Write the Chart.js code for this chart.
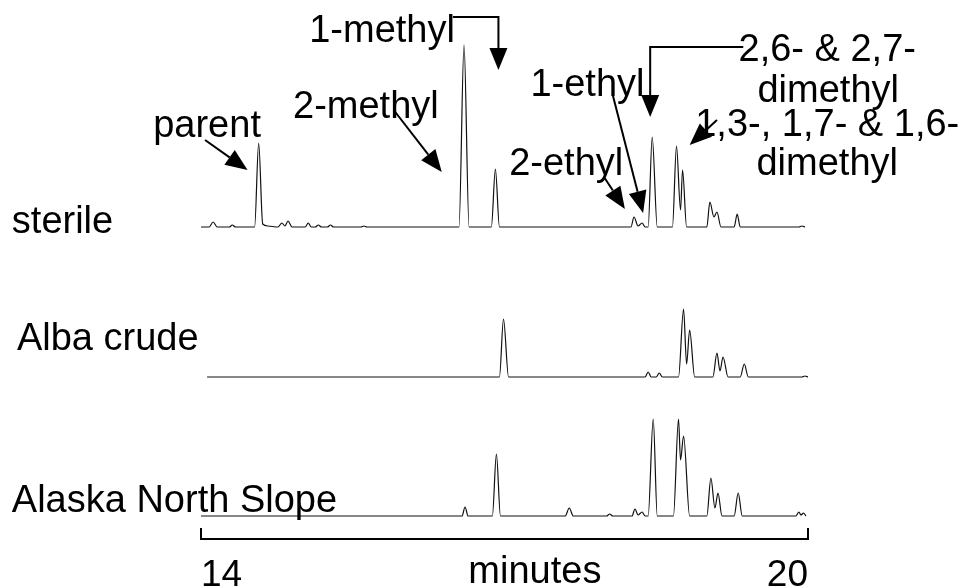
<!DOCTYPE html>
<html>
<head>
<meta charset="utf-8">
<script src="https://cdn.jsdelivr.net/npm/chart.js@4.4.0/dist/chart.umd.min.js"></script>
<style>
  body { margin: 0; background: #fff; }
</style>
</head>
<body>
<canvas id="chrom" width="963" height="586"></canvas>
<script>
// retention time axis (minutes)
const xTicks = [14, 20];

// signal, arbitrary units above its baseline
const sterileTime = [14.00, 14.08, 14.12, 14.16, 14.28, 14.31, 14.34, 14.53, 14.57, 14.61, 14.66,
    14.76, 14.80, 14.83, 14.86, 14.90, 15.03, 15.06, 15.09, 15.13, 15.16, 15.19, 15.25, 15.28, 15.31,
    15.58, 15.61, 15.64, 16.55, 16.60, 16.65, 16.87, 16.91, 16.95, 18.25, 18.28, 18.32, 18.36, 18.39,
    18.42, 18.46, 18.51, 18.66, 18.70, 18.74, 18.76, 18.80, 19.00, 19.03, 19.07, 19.10, 19.14,
    19.27, 19.30, 19.33, 19.91, 19.94, 19.97];
const sterileSignal = [0, 0, 5, 0, 0, 2, 0, 0, 84, 3, 1,
    0, 4, 1, 6, 0, 0, 4, 0, 0, 2, 0, 0, 2, 0,
    0, 1, 0, 0, 182, 0, 0, 58, 0, 0, 10, 1, 4, 0,
    0, 90, 0, 0, 81, 17, 57, 0, 0, 25, 10, 15, 0,
    0, 13, 0, 0, 1, 0];

const albaTime = [14.06, 16.95, 16.99, 17.04, 18.39, 18.42, 18.45, 18.50, 18.53, 18.56,
    18.72, 18.77, 18.80, 18.83, 18.88, 19.06, 19.10, 19.13, 19.16, 19.21,
    19.33, 19.37, 19.41, 19.94, 19.97, 20.00];
const albaSignal = [0, 0, 58, 0, 0, 5, 0, 0, 4, 0,
    0, 68, 13, 47, 0, 0, 24, 6, 20, 0,
    0, 13, 0, 0, 1, 0];

const alaskaTime = [14.00, 16.58, 16.61, 16.64, 16.88, 16.92, 16.96, 17.60, 17.64, 17.68,
    18.01, 18.04, 18.07, 18.26, 18.29, 18.32, 18.36, 18.39, 18.42, 18.47, 18.51,
    18.67, 18.72, 18.74, 18.77, 18.83, 19.00, 19.04, 19.08, 19.11, 19.15,
    19.27, 19.31, 19.35, 19.88, 19.91, 19.93, 19.955, 19.98];
const alaskaSignal = [0, 0, 9, 0, 0, 62, 0, 0, 8, 0,
    0, 2, 0, 0, 7, 1, 4, 0, 0, 97, 0,
    0, 97, 56, 80, 0, 0, 38, 8, 23, 0,
    0, 23, 0, 0, 4, 1, 3, 0];

const traceNames = ['sterile', 'Alba crude', 'Alaska North Slope'];

// peak labels, placed in (minutes, sterile units)
const peakLabels = [
    { text: 'parent', t: 14.06, v: 90 },
    { text: '2-methyl', t: 15.63, v: 109 },
    { text: '1-methyl', t: 15.79, v: 185 },
    { text: '1-ethyl', t: 17.82, v: 131 },
    { text: '2-ethyl', t: 17.61, v: 52 },
    { text: '2,6- & 2,7-', t: 20.19, v: 166 },
    { text: 'dimethyl', t: 20.20, v: 125 },
    { text: '1,3-, 1,7- & 1,6-', t: 20.19, v: 91 },
    { text: 'dimethyl', t: 20.19, v: 52 }
];
const peakArrows = [
    [[14.04, 87], [14.46, 57]],
    [[15.92, 115], [16.38, 55]],
    [[16.49, 210], [16.94, 210], [16.94, 157]],
    [[18.07, 132], [18.37, 14]],
    [[17.99, 49], [18.19, 18]],
    [[19.36, 180], [18.44, 180], [18.44, 110]],
    [[19.10, 107], [18.83, 82]]
];

const FONT = '38px "Liberation Sans", Arial, sans-serif';

function toPoints(times, values) {
    return times.map((t, i) => ({ x: t, y: values[i] }));
}

function arrowHead(ctx, x0, y0, x1, y1) {
    const ang = Math.atan2(y1 - y0, x1 - x0);
    const len = 22, half = 9;
    const bx = x1 - len * Math.cos(ang), by = y1 - len * Math.sin(ang);
    ctx.beginPath();
    ctx.moveTo(x1, y1);
    ctx.lineTo(bx + half * Math.sin(ang), by - half * Math.cos(ang));
    ctx.lineTo(bx - half * Math.sin(ang), by + half * Math.cos(ang));
    ctx.closePath();
    ctx.fill();
    return [bx, by];
}

const notesPlugin = {
    id: 'notes',
    afterDraw(chart) {
        const ctx = chart.ctx;
        const xs = chart.scales.x;
        const ys = chart.scales.sterile;
        ctx.save();
        ctx.fillStyle = '#000';
        ctx.strokeStyle = '#000';

        // bracket ends of the time axis
        ctx.lineWidth = 2;
        xTicks.forEach(v => {
            const px = xs.getPixelForValue(v);
            ctx.beginPath();
            ctx.moveTo(px, xs.top + 1);
            ctx.lineTo(px, xs.top - 11);
            ctx.stroke();
        });

        ctx.font = FONT;
        ctx.textBaseline = 'alphabetic';

        // trace names on the left
        ctx.textAlign = 'left';
        const nameSpots = [['sterile', -6], ['alba', 27], ['alaska', 4]];
        traceNames.forEach((name, i) => {
            const sc = chart.scales[nameSpots[i][0]];
            ctx.fillText(name, xs.getPixelForValue(i === 1 ? 12.18 : 12.13), sc.getPixelForValue(nameSpots[i][1]));
        });

        // axis title sits on the tick label line
        ctx.textAlign = 'center';
        ctx.fillText('minutes', xs.getPixelForValue(17.3), chart.scales.alaska.getPixelForValue(-67));

        peakLabels.forEach(l => {
            ctx.fillText(l.text, xs.getPixelForValue(l.t), ys.getPixelForValue(l.v));
        });

        ctx.lineWidth = 2;
        peakArrows.forEach(path => {
            const pts = path.map(p => [xs.getPixelForValue(p[0]), ys.getPixelForValue(p[1])]);
            const n = pts.length;
            const base = arrowHead(ctx, pts[n - 2][0], pts[n - 2][1], pts[n - 1][0], pts[n - 1][1]);
            ctx.beginPath();
            ctx.moveTo(pts[0][0], pts[0][1]);
            for (let i = 1; i < n - 1; i++) ctx.lineTo(pts[i][0], pts[i][1]);
            ctx.lineTo(base[0], base[1]);
            ctx.stroke();
        });
        ctx.restore();
    }
};

function traceAxis(min, max, weight, order) {
    return {
        type: 'linear',
        position: 'left',
        stack: 'traces',
        stackWeight: weight,
        weight: order,
        min: min,
        max: max,
        offset: false,
        ticks: { display: false },
        grid: { display: false, drawTicks: false },
        border: { display: false }
    };
}

function traceSet(times, values, axis) {
    return {
        data: toPoints(times, values),
        yAxisID: axis,
        borderColor: '#111',
        borderWidth: 1.2,
        pointRadius: 0,
        fill: false,
        cubicInterpolationMode: 'monotone'
    };
}

new Chart(document.getElementById('chrom'), {
    type: 'line',
    data: {
        datasets: [
            traceSet(sterileTime, sterileSignal, 'sterile'),
            traceSet(albaTime, albaSignal, 'alba'),
            traceSet(alaskaTime, alaskaSignal, 'alaska')
        ]
    },
    options: {
        responsive: false,
        animation: false,
        events: [],
        // negative bottom padding lets the tick labels sit low under the bracket
        layout: { padding: { left: 201, right: 155, top: 40, bottom: -26 } },
        plugins: { legend: { display: false }, tooltip: { enabled: false } },
        scales: {
            x: {
                type: 'linear',
                min: 14,
                max: 20,
                afterBuildTicks: scale => { scale.ticks = xTicks.map(v => ({ value: v })); },
                ticks: {
                    align: 'inner',
                    maxRotation: 0,
                    autoSkip: false,
                    padding: 18,
                    color: '#000',
                    font: { family: '"Liberation Sans", Arial, sans-serif', size: 37, lineHeight: 1 }
                },
                grid: { display: false, drawTicks: false },
                border: { display: true, color: '#000', width: 2 }
            },
            sterile: traceAxis(-23, 187, 210, 3),
            alba: traceAxis(-18, 127, 145, 2),
            alaska: traceAxis(-23, 121, 144, 1)
        }
    },
    plugins: [notesPlugin]
});
</script>
</body>
</html>
